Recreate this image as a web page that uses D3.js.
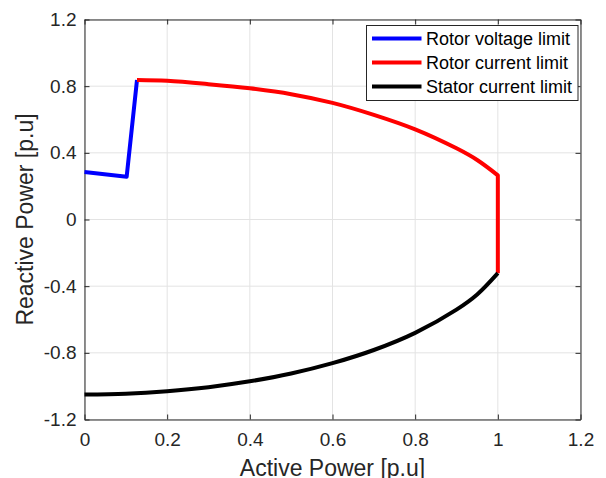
<!DOCTYPE html>
<html>
<head>
<meta charset="utf-8">
<script src="https://cdn.jsdelivr.net/npm/d3@7"></script>
<style>
  body { margin: 0; background: #fff; }
  svg { display: block; font-family: "Liberation Sans", Arial, sans-serif; }
</style>
</head>
<body>
<svg width="606" height="478"></svg>
<script>
// values
const xTicks = [0, 0.2, 0.4, 0.6, 0.8, 1, 1.2];
const yTicks = [-1.2, -0.8, -0.4, 0, 0.4, 0.8, 1.2];

const rotorVoltageP = [0, 0.102, 0.127];
const rotorVoltageQ = [0.285, 0.257, 0.837];

// arc part, then the vertical drop at P = 1
const rotorCurrentP = [0.127, 0.2, 0.3, 0.4, 0.5, 0.6, 0.7, 0.8, 0.9, 0.95, 1.0, 1.0];
const rotorCurrentQ = [0.837, 0.832, 0.812, 0.787, 0.752, 0.70, 0.628, 0.541, 0.427, 0.357, 0.265, -0.322];

const statorCurrentP = [0, 0.1, 0.2, 0.3, 0.4, 0.5, 0.6, 0.7, 0.8, 0.9, 0.95, 1.0];
const statorCurrentQ = [-1.05, -1.045, -1.03, -1.006, -0.971, -0.924, -0.862, -0.783, -0.68, -0.541, -0.45, -0.322];

const seriesNames = ['Rotor voltage limit', 'Rotor current limit', 'Stator current limit'];
const seriesColors = ['#0000ff', '#ff0000', '#000000'];

const svg = d3.select('svg');
const width = +svg.attr('width');
const height = +svg.attr('height');
const margin = {top: 19.5, right: 25.5, bottom: 58.5, left: 84.5};
const innerWidth = width - margin.left - margin.right;
const innerHeight = height - margin.top - margin.bottom;
const axisColor = '#262626';

const xScale = d3.scaleLinear().domain([0, 1.2]).range([0, innerWidth]);
const yScale = d3.scaleLinear().domain([-1.2, 1.2]).range([innerHeight, 0]);

const g = svg.append('g')
    .attr('transform', `translate(${margin.left},${margin.top})`);

// grid
g.append('g').selectAll('line').data(xTicks).enter().append('line')
    .attr('x1', d => xScale(d)).attr('x2', d => xScale(d))
    .attr('y1', 0).attr('y2', innerHeight)
    .attr('stroke', '#e3e3e3').attr('stroke-width', 1);
g.append('g').selectAll('line').data(yTicks).enter().append('line')
    .attr('y1', d => yScale(d)).attr('y2', d => yScale(d))
    .attr('x1', 0).attr('x2', innerWidth)
    .attr('stroke', '#e3e3e3').attr('stroke-width', 1);

// axes (matlab style: ticks inside, box on)
const tickFmt = d => d === 0 ? '0' : d === 1 ? '1' : String(d);

const xAxisG = g.append('g')
    .attr('transform', `translate(0,${innerHeight})`)
    .call(d3.axisBottom(xScale).tickValues(xTicks).tickFormat(tickFmt).tickSizeInner(-5).tickSizeOuter(0).tickPadding(13));
const yAxisG = g.append('g')
    .call(d3.axisLeft(yScale).tickValues(yTicks).tickFormat(tickFmt).tickSizeInner(-5).tickSizeOuter(0).tickPadding(8));
const xTopG = g.append('g')
    .call(d3.axisTop(xScale).tickValues(xTicks).tickSizeInner(-5).tickSizeOuter(0));
const yRightG = g.append('g')
    .attr('transform', `translate(${innerWidth},0)`)
    .call(d3.axisRight(yScale).tickValues(yTicks).tickSizeInner(-5).tickSizeOuter(0));
// top and right axes carry ticks only
xTopG.selectAll('text').remove();
yRightG.selectAll('text').remove();

[xAxisG, yAxisG, xTopG, yRightG].forEach(a => {
    a.selectAll('.domain, .tick line').attr('stroke', axisColor);
    a.selectAll('text').attr('fill', axisColor).style('font-size', '19px')
        .style('font-family', '"Liberation Sans", Arial, sans-serif');
});

// curves
const xy = d => [xScale(d[0]), yScale(d[1])];
const smooth = d3.line().x(d => xScale(d[0])).y(d => yScale(d[1])).curve(d3.curveCatmullRom.alpha(0.5));
const straight = d3.line().x(d => xScale(d[0])).y(d => yScale(d[1]));

const rotorVoltage = d3.zip(rotorVoltageP, rotorVoltageQ);
const rotorCurrent = d3.zip(rotorCurrentP, rotorCurrentQ);
const statorCurrent = d3.zip(statorCurrentP, statorCurrentQ);

const curves = [
    straight(rotorVoltage),
    // smooth arc, straight vertical drop at the end
    smooth(rotorCurrent.slice(0, -1)) + 'L' + xy(rotorCurrent[rotorCurrent.length - 1]).join(','),
    smooth(statorCurrent)
];
g.selectAll('path.curve').data(curves).enter().append('path')
    .attr('class', 'curve')
    .attr('d', d => d)
    .attr('fill', 'none')
    .attr('stroke', (d, i) => seriesColors[i])
    .attr('stroke-width', 4)
    .attr('stroke-linejoin', 'round');

// axis labels
svg.append('text')
    .attr('x', margin.left + innerWidth / 2)
    .attr('y', 476)
    .attr('text-anchor', 'middle')
    .attr('fill', axisColor)
    .style('font-size', '23px')
    .text('Active Power [p.u]');

svg.append('text')
    .attr('transform', `translate(33,${margin.top + innerHeight / 2}) rotate(-90)`)
    .attr('text-anchor', 'middle')
    .attr('fill', axisColor)
    .style('font-size', '23px')
    .text('Reactive Power [p.u]');

// legend
const legend = svg.append('g').attr('transform', 'translate(366.5,25.5)');
legend.append('rect')
    .attr('width', 211.5).attr('height', 75)
    .attr('fill', '#fff').attr('stroke', axisColor).attr('stroke-width', 1);
const items = legend.selectAll('g.item').data(seriesNames).enter().append('g')
    .attr('class', 'item')
    .attr('transform', (d, i) => `translate(0,${13 + i * 24})`);
items.append('line')
    .attr('x1', 5.5).attr('x2', 55)
    .attr('stroke', (d, i) => seriesColors[i]).attr('stroke-width', 4);
items.append('text')
    .attr('x', 59.5)
    .attr('dy', '0.35em')
    .attr('fill', '#000')
    .style('font-size', '18px')
    .text(d => d);
</script>
</body>
</html>
